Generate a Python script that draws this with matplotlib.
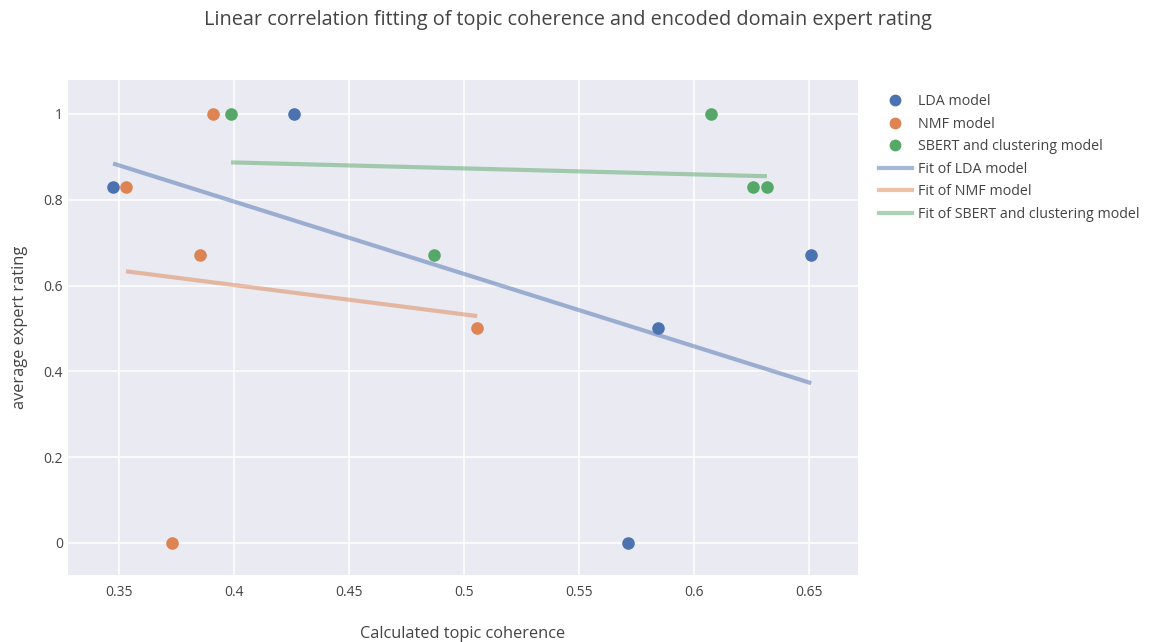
import numpy as np
import matplotlib
matplotlib.use("Agg")
import matplotlib.pyplot as plt
from matplotlib.lines import Line2D

# Topic coherence and average expert rating per model
lda_coherence = [0.3474, 0.4261, 0.5713, 0.5843, 0.6509]
lda_rating = [0.83, 1.0, 0.0, 0.5, 0.67]

nmf_coherence = [0.3530, 0.3909, 0.3852, 0.3730, 0.5057]
nmf_rating = [0.83, 1.0, 0.67, 0.0, 0.5]

sbert_coherence = [0.3987, 0.4870, 0.6074, 0.6257, 0.6317]
sbert_rating = [1.0, 0.67, 1.0, 0.83, 0.83]

model_names = ["LDA model", "NMF model", "SBERT and clustering model"]
colors = ["#4C72B0", "#DD8452", "#55A868"]

x_ticks = [0.35, 0.4, 0.45, 0.5, 0.55, 0.6, 0.65]
x_tick_labels = ["0.35", "0.4", "0.45", "0.5", "0.55", "0.6", "0.65"]
y_ticks = [0, 0.2, 0.4, 0.6, 0.8, 1.0]
y_tick_labels = ["0", "0.2", "0.4", "0.6", "0.8", "1"]

plt.rcParams["font.family"] = ["Open Sans", "DejaVu Sans"]
text_color = "#444444"

fig = plt.figure(figsize=(11.49, 6.42), dpi=100)
ax = fig.add_axes([0.0592, 0.1044, 0.6876, 0.771])
ax.set_facecolor("#EAEAF2")
fig.patch.set_facecolor("white")

series = [
    (lda_coherence, lda_rating),
    (nmf_coherence, nmf_rating),
    (sbert_coherence, sbert_rating),
]

handles = []
fit_handles = []
for (xs, ys), name, c in zip(series, model_names, colors):
    xs = np.asarray(xs)
    ys = np.asarray(ys)
    ax.scatter(xs, ys, s=82, color=c, zorder=4, linewidths=0)
    # ordinary least squares trend line over the observed coherence range
    slope, intercept = np.polyfit(xs, ys, 1)
    fx = np.array([xs.min(), xs.max()])
    ax.plot(fx, slope * fx + intercept, color=c, alpha=0.5, lw=3.0,
            solid_capstyle="butt", zorder=3)
    handles.append(Line2D([], [], ls="none", marker="o", markersize=8.5,
                          markerfacecolor=c, markeredgewidth=0, label=name))
    fit_handles.append(Line2D([], [], color=c, alpha=0.5, lw=3.0,
                              label="Fit of " + name))

ax.set_xlim(0.3278, 0.6713)
ax.set_ylim(-0.0746, 1.079)
ax.set_xticks(x_ticks)
ax.set_xticklabels(x_tick_labels)
ax.set_yticks(y_ticks)
ax.set_yticklabels(y_tick_labels)
ax.grid(True, color="white", lw=1.1)
ax.set_axisbelow(True)
for sp in ax.spines.values():
    sp.set_visible(False)
ax.tick_params(length=0, labelsize=10, labelcolor=text_color)
ax.tick_params(axis="x", pad=7)
ax.tick_params(axis="y", pad=3.5)

ax.set_xlabel("Calculated topic coherence", fontsize=11.8, color=text_color,
              labelpad=19)
ax.set_ylabel("average expert rating", fontsize=11.8, color=text_color,
              labelpad=11)

fig.suptitle("Linear correlation fitting of topic coherence and encoded domain expert rating",
             x=0.494, y=0.985, fontsize=14.3, color=text_color)

leg = fig.legend(handles=handles + fit_handles, loc="upper left",
                 bbox_to_anchor=(0.765, 0.853), frameon=False,
                 fontsize=10.3, handlelength=2.3, handletextpad=0.45,
                 labelspacing=0.52, borderaxespad=0, borderpad=0)
for t in leg.get_texts():
    t.set_color(text_color)

fig.savefig("out.png", dpi=100)
